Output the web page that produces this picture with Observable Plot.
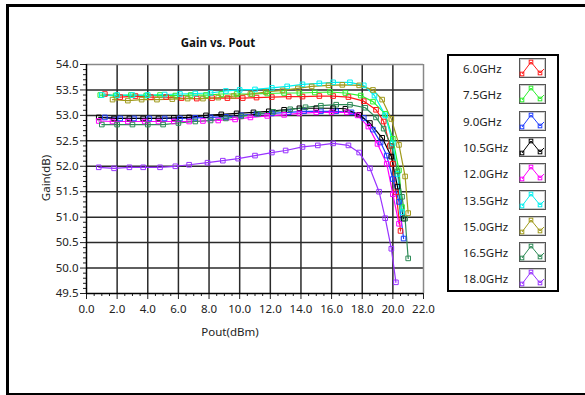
<!DOCTYPE html>
<html>
<head>
<meta charset="utf-8">
<script src="https://cdn.jsdelivr.net/npm/d3@7"></script>
<script src="https://cdn.jsdelivr.net/npm/@observablehq/plot@0.6"></script>
<style>
  html, body { margin: 0; padding: 0; background: #fff; width: 585px; height: 395px; overflow: hidden; }
  #wrap { position: relative; width: 585px; height: 395px; font-family: "Noto Sans", sans-serif; }
  #frame { position: absolute; left: 6px; top: 4px; width: 600px; height: 386px; border: 3px solid #000; box-sizing: content-box; }
  #chart { position: absolute; left: 0; top: 0; }
  .title { position: absolute; left: 218px; top: 42px; transform: translate(-50%, -50%); font-weight: bold; font-size: 11.5px; color: #111; white-space: nowrap; }
  .xlab { position: absolute; left: 230px; top: 331px; transform: translate(-50%, -50%); font-size: 11.5px; color: #222; white-space: nowrap; }
  .ylab { position: absolute; left: 45px; top: 178px; transform: translate(-50%, -50%) rotate(-90deg); font-size: 11.5px; color: #222; white-space: nowrap; }
  #legend { position: absolute; left: 447px; top: 54px; width: 108px; height: 234px; border: 2px solid #000; background: #fff; }
  .lrow { position: absolute; left: 0; width: 108px; height: 20px; }
  .lrow span { position: absolute; left: 14px; top: 50%; transform: translateY(-50%); font-size: 11.5px; color: #222; white-space: nowrap; }
  .lrow svg { position: absolute; left: 70px; top: 0; }
</style>
</head>
<body>
<div id="wrap">
  <div id="frame"></div>
  <div id="chart"></div>
  <div class="title">Gain vs. Pout</div>
  <div class="xlab">Pout(dBm)</div>
  <div class="ylab">Gain(dB)</div>
  <div id="legend"></div>
</div>
<script>
// ---- data ----
const seriesNames = ["6.0GHz","7.5GHz","9.0GHz","10.5GHz","12.0GHz","13.5GHz","15.0GHz","16.5GHz","18.0GHz"];
const seriesColors = ["#ff1a1a","#2ef02e","#1f3dff","#000000","#ff00ff","#00f0f0","#a09a1c","#2e8b57","#9933ff"];

const pout_6_0 = [1.2,2.2,3.2,4.2,5.2,6.2,7.2,8.2,9.2,10.2,11.1,12.1,13.2,14.1,15.2,16.1,17.1,18.1,18.9,19.4,19.8,20.0,20.2,20.5];
const gain_6_0 = [53.42,53.36,53.38,53.36,53.36,53.34,53.33,53.34,53.34,53.34,53.35,53.36,53.37,53.37,53.38,53.38,53.36,53.28,53.11,52.88,52.40,52.05,51.49,50.73];

const pout_7_5 = [0.9,1.9,2.9,3.9,4.8,5.8,6.8,7.8,8.8,9.8,10.8,11.8,12.9,13.9,14.9,15.9,16.9,17.9,18.7,19.5,20.0,20.4,20.6];
const gain_7_5 = [53.40,53.39,53.40,53.39,53.40,53.39,53.40,53.40,53.42,53.42,53.42,53.43,53.44,53.44,53.45,53.46,53.44,53.39,53.27,53.03,52.54,51.92,51.20];

const pout_9_0 = [1.2,2.2,3.1,4.1,5.1,6.1,7.1,8.1,9.1,10.1,11.1,12.1,13.2,14.2,15.3,16.3,17.3,18.1,18.7,19.2,19.6,20.0,20.4,20.7];
const gain_9_0 = [52.96,52.94,52.94,52.94,52.94,52.94,52.95,52.96,52.97,53.00,53.03,53.04,53.06,53.08,53.08,53.08,53.06,52.95,52.72,52.47,52.21,51.75,51.30,50.58];

const pout_10_5 = [0.8,1.8,2.8,3.7,4.7,5.7,6.7,7.8,8.8,9.8,10.9,11.9,12.9,13.9,15.0,16.1,16.9,17.8,18.5,19.3,19.9,20.3,20.7];
const gain_10_5 = [52.96,52.94,52.94,52.94,52.94,52.95,52.96,53.00,53.02,53.04,53.06,53.08,53.11,53.14,53.14,53.14,53.13,53.01,52.85,52.56,52.19,51.60,50.97];

const pout_12_0 = [0.8,1.7,2.7,3.8,4.7,5.7,6.7,7.6,8.6,9.7,10.7,11.8,12.9,13.9,15.0,16.0,17.0,17.7,18.4,19.0,19.6,20.0,20.4];
const gain_12_0 = [52.89,52.88,52.88,52.88,52.88,52.88,52.88,52.89,52.90,52.92,52.96,52.99,53.01,53.04,53.06,53.06,53.06,53.00,52.78,52.44,52.05,51.45,50.87];

const pout_13_5 = [1.0,2.0,3.0,4.0,5.1,6.1,7.1,8.1,9.1,10.0,11.0,12.1,13.1,14.1,15.2,16.1,17.2,18.1,18.8,19.5,20.0,20.3,20.6];
const gain_13_5 = [53.40,53.40,53.40,53.40,53.41,53.42,53.43,53.44,53.48,53.50,53.51,53.54,53.57,53.61,53.63,53.65,53.65,53.59,53.39,53.00,52.45,51.85,51.10];

const pout_15_0 = [1.7,2.7,3.6,4.6,5.6,6.6,7.6,8.6,9.6,10.7,11.7,12.8,13.8,14.7,15.8,16.7,17.8,18.7,19.3,19.9,20.4,20.8,21.0];
const gain_15_0 = [53.31,53.29,53.31,53.31,53.32,53.33,53.33,53.35,53.38,53.42,53.46,53.49,53.53,53.57,53.59,53.60,53.59,53.50,53.31,52.93,52.42,51.80,51.08];

const pout_16_5 = [1.0,2.0,3.0,4.0,5.0,6.0,7.1,8.1,9.1,10.1,11.2,12.2,13.3,14.3,15.3,16.3,17.2,18.2,18.9,19.4,19.9,20.3,20.6,20.8,21.0];
const gain_16_5 = [52.82,52.82,52.82,52.82,52.82,52.85,52.88,52.90,52.94,52.98,53.03,53.07,53.12,53.16,53.19,53.21,53.21,53.15,52.96,52.74,52.40,51.90,51.40,50.97,50.19];

const pout_18_0 = [0.8,1.8,2.8,3.7,4.8,5.8,6.7,7.9,8.9,9.9,11.0,12.1,13.0,14.1,15.1,16.1,17.1,17.8,18.5,19.1,19.5,19.9,20.2];
const gain_18_0 = [51.98,51.96,51.98,51.98,51.98,52.00,52.03,52.07,52.11,52.15,52.21,52.27,52.31,52.38,52.41,52.45,52.41,52.27,51.96,51.50,50.98,50.38,49.72];

const xTicks = [0,2,4,6,8,10,12,14,16,18,20,22];
const yTicks = [49.5,50.0,50.5,51.0,51.5,52.0,52.5,53.0,53.5,54.0];

// ---- build table ----
const pouts = [pout_6_0,pout_7_5,pout_9_0,pout_10_5,pout_12_0,pout_13_5,pout_15_0,pout_16_5,pout_18_0];
const gains = [gain_6_0,gain_7_5,gain_9_0,gain_10_5,gain_12_0,gain_13_5,gain_15_0,gain_16_5,gain_18_0];
const rows = [];
seriesNames.forEach((s, i) => {
  pouts[i].forEach((x, j) => rows.push({s, x, g: gains[i][j]}));
});
const xMinor = d3.range(0, 22.001, 0.5).filter(v => v % 2 !== 0);
const yMinor = d3.range(495, 541, 1).map(v => v / 10).filter(v => Math.round(v * 10) % 5 !== 0);

const chart = Plot.plot({
  width: 585, height: 395,
  marginLeft: 86, marginRight: 162, marginTop: 64, marginBottom: 102,
  style: {fontFamily: "Noto Sans, sans-serif", fontSize: "11.5px", color: "#222", background: "transparent", overflow: "visible"},
  x: {domain: [0, 22]},
  y: {domain: [49.5, 54]},
  color: {domain: seriesNames, range: seriesColors},
  marks: [
    Plot.ruleX(xTicks.filter(v => v > 0 && v < 22), {stroke: "#2a2a2a", strokeWidth: 1.5}),
    Plot.ruleY(yTicks.filter(v => v > 49.5 && v < 54), {stroke: "#2a2a2a", strokeWidth: 1.5}),
    Plot.ruleX([22], {stroke: "#888", strokeWidth: 1.5}),
    Plot.ruleY([54], {stroke: "#888", strokeWidth: 1.5}),
    Plot.axisY(yMinor, {tickSize: 3, tickFormat: () => "", label: null, stroke: "#222"}),
    Plot.axisY(yTicks, {tickSize: 6, tickPadding: 2, tickFormat: d => d.toFixed(1), label: null}),
    Plot.axisX(xMinor, {tickSize: 3, tickFormat: () => "", label: null, stroke: "#222"}),
    Plot.axisX(xTicks, {tickSize: 6, tickPadding: 5, tickFormat: d => d.toFixed(1), label: null}),
    Plot.line(rows, {x: "x", y: "g", z: "s", stroke: "s", strokeWidth: 1.2}),
    Plot.dot(rows, {x: "x", y: "g", stroke: "s", symbol: "square", r: 2.6, strokeWidth: 1, fill: "none"}),
    Plot.ruleX([0], {stroke: "#000", strokeWidth: 1.5}),
    Plot.ruleY([49.5], {stroke: "#000", strokeWidth: 1.5})
  ]
});
document.getElementById("chart").append(chart);

// ---- legend ----
const legend = d3.select("#legend");
seriesNames.forEach((s, i) => {
  const row = legend.append("div").attr("class", "lrow").style("top", (2 + i * 26.3) + "px");
  row.append("span").text(s);
  const svg = row.append("svg").attr("width", 27).attr("height", 20);
  svg.append("rect").attr("x", 0.5).attr("y", 0.5).attr("width", 26).attr("height", 19).attr("fill", "#fff").attr("stroke", "#555");
  svg.append("rect").attr("x", 1.5).attr("y", 1.5).attr("width", 24).attr("height", 17).attr("fill", "none").attr("stroke", "#ccc");
  const pts = [[3, 16], [12, 4], [21, 15], [25, 11]];
  svg.append("polyline").attr("points", pts.map(p => p.join(",")).join(" ")).attr("fill", "none").attr("stroke", seriesColors[i]).attr("stroke-width", 1);
  pts.slice(0, 3).forEach(p => svg.append("rect").attr("x", p[0] - 1.8).attr("y", p[1] - 1.8).attr("width", 3.6).attr("height", 3.6).attr("fill", "none").attr("stroke", seriesColors[i]).attr("stroke-width", 1));
});
</script>
</body>
</html>
